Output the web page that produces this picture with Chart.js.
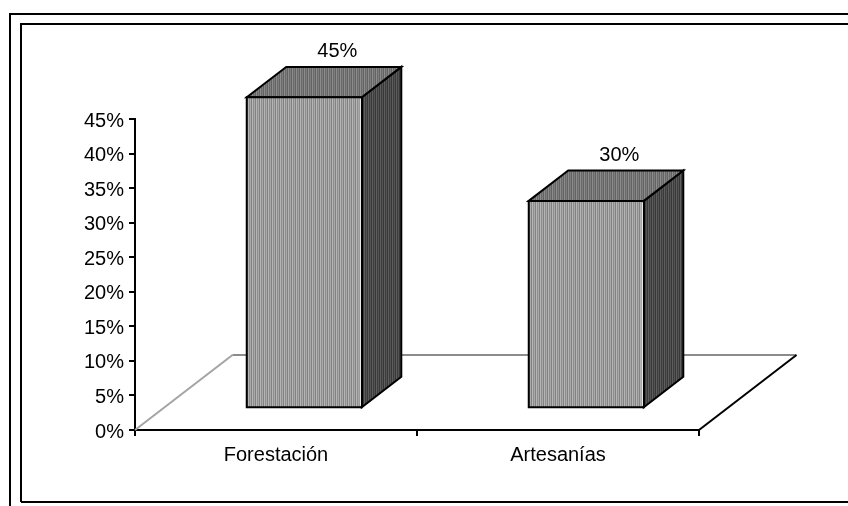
<!DOCTYPE html>
<html>
<head>
<meta charset="utf-8">
<script src="https://cdn.jsdelivr.net/npm/chart.js@4/dist/chart.umd.min.js"></script>
<style>
  html, body { margin: 0; padding: 0; background: #fff; }
  canvas { display: block; }
</style>
</head>
<body>
<canvas id="chart" width="848" height="506"></canvas>
<script>
// Categories and their shares (percent)
const categories = ['Forestación', 'Artesanías'];
const shares = [45, 30];
// Value axis: 0% .. 45% in 5% steps
const axisMin = 0;
const axisMax = 45;
const axisStep = 5;

const FONT = '"Liberation Sans", Arial, sans-serif';

// 3-D look: floor depth vector, bar front offset and bar depth as fractions of it
const FLOOR = { dx: 97.5, dy: 75 };
const BAR_FRONT = 0.29;
const BAR_DEPTH = 0.405;

// Striped fills for the faces of the boxes
function stripePattern(cols) {
  const c = document.createElement('canvas');
  c.width = cols.length; c.height = 1;
  const g = c.getContext('2d');
  cols.forEach((col, i) => { g.fillStyle = col; g.fillRect(i, 0, 1, 1); });
  return g.createPattern(c, 'repeat');
}
const ctxMain = document.getElementById('chart').getContext('2d');
const fills = {
  front: stripePattern(['#b6b6b6', '#8e8e8e', '#a9a9a9', '#828282']),
  top:   stripePattern(['#8c8c8c', '#6a6a6a', '#7e7e7e', '#626262']),
  side:  stripePattern(['#5e5e5e', '#3e3e3e', '#535353', '#383838'])
};

function poly(ctx, pts) {
  ctx.beginPath();
  ctx.moveTo(pts[0][0], pts[0][1]);
  for (let i = 1; i < pts.length; i++) ctx.lineTo(pts[i][0], pts[i][1]);
  ctx.closePath();
}

// Page frame: double rule at top and left, single rule at bottom
const frame = {
  id: 'frame',
  beforeDraw(chart) {
    const ctx = chart.ctx;
    const W = chart.width, H = chart.height;
    ctx.save();
    ctx.fillStyle = '#fff';
    ctx.fillRect(0, 0, W, H);
    ctx.strokeStyle = '#000';
    ctx.lineWidth = 2;
    ctx.beginPath();
    ctx.moveTo(10, H); ctx.lineTo(10, 14); ctx.lineTo(W, 14);
    ctx.moveTo(21, 502); ctx.lineTo(21, 24); ctx.lineTo(W, 24);
    ctx.moveTo(21, 502); ctx.lineTo(W, 502);
    ctx.stroke();
    ctx.restore();
  }
};

// Floor of the 3-D plot
const floor = {
  id: 'floor',
  beforeDatasetsDraw(chart) {
    const ctx = chart.ctx;
    const a = chart.chartArea;
    const y0 = chart.scales.y.getPixelForValue(axisMin);
    ctx.save();
    ctx.lineWidth = 2;
    ctx.strokeStyle = '#a4a4a4';
    ctx.beginPath();
    ctx.moveTo(a.left, y0);
    ctx.lineTo(a.left + FLOOR.dx, y0 - FLOOR.dy);
    ctx.stroke();
    ctx.strokeStyle = '#8c8c8c';
    ctx.beginPath();
    ctx.moveTo(a.left + FLOOR.dx, y0 - FLOOR.dy);
    ctx.lineTo(a.right + FLOOR.dx, y0 - FLOOR.dy);
    ctx.stroke();
    ctx.strokeStyle = '#000';
    ctx.beginPath();
    ctx.moveTo(a.right, y0);
    ctx.lineTo(a.right + FLOOR.dx, y0 - FLOOR.dy);
    ctx.stroke();
    ctx.restore();
  }
};

// Draws each bar as a box with front, top and side faces, plus its value label
const boxes = {
  id: 'boxes',
  afterDatasetsDraw(chart) {
    const ctx = chart.ctx;
    const meta = chart.getDatasetMeta(0);
    const fx = FLOOR.dx * BAR_FRONT, fy = FLOOR.dy * BAR_FRONT;
    const dx = FLOOR.dx * BAR_DEPTH, dy = FLOOR.dy * BAR_DEPTH;
    ctx.save();
    meta.data.forEach((bar, i) => {
      const p = bar.getProps(['x', 'y', 'base', 'width'], true);
      const l = p.x - p.width / 2 + fx;
      const r = p.x + p.width / 2 + fx;
      const t = p.y - fy;
      const b = p.base - fy;

      const front = [[l, t], [r, t], [r, b], [l, b]];
      const side = [[r, t], [r + dx, t - dy], [r + dx, b - dy], [r, b]];
      const top = [[l, t], [l + dx, t - dy], [r + dx, t - dy], [r, t]];

      ctx.lineWidth = 2;
      ctx.lineJoin = 'miter';
      ctx.strokeStyle = '#000';
      [[side, fills.side], [top, fills.top], [front, fills.front]].forEach(([pts, fill]) => {
        poly(ctx, pts);
        ctx.fillStyle = fill;
        ctx.fill();
        ctx.stroke();
      });
      // light edge between front and side faces
      ctx.strokeStyle = '#ffffff';
      ctx.lineWidth = 1;
      ctx.beginPath();
      ctx.moveTo(r - 1.5, t + 1.5);
      ctx.lineTo(r - 1.5, b - 1.5);
      ctx.stroke();

      // value label above the box
      ctx.fillStyle = '#000';
      ctx.font = '20px ' + FONT;
      ctx.textAlign = 'center';
      ctx.textBaseline = 'middle';
      ctx.fillText(shares[i] + '%', (l + r) / 2 + 33, t - dy - 15);
    });
    ctx.restore();
  }
};

new Chart(ctxMain, {
  type: 'bar',
  data: {
    labels: categories,
    datasets: [{
      data: shares,
      backgroundColor: 'rgba(0,0,0,0)',
      borderWidth: 0,
      categoryPercentage: 1,
      barPercentage: 0.408
    }]
  },
  options: {
    responsive: false,
    animation: false,
    events: [],
    layout: { padding: { top: 119, right: 149, left: 0, bottom: 0 } },
    plugins: {
      legend: { display: false },
      tooltip: { enabled: false }
    },
    scales: {
      x: {
        offset: true,
        grid: {
          display: true, drawOnChartArea: false, drawTicks: true,
          tickLength: 6, color: '#000', lineWidth: 2, offset: true
        },
        border: { display: true, color: '#000', width: 2 },
        ticks: { color: '#000', font: { family: FONT, size: 20 }, padding: 7, maxRotation: 0 },
        afterFit: s => { s.height = 76; }
      },
      y: {
        min: axisMin,
        max: axisMax,
        grid: {
          display: true, drawOnChartArea: false, drawTicks: true,
          tickLength: 6, color: '#000', lineWidth: 2
        },
        border: { display: true, color: '#000', width: 2 },
        ticks: {
          stepSize: axisStep,
          color: '#000',
          font: { family: FONT, size: 20 },
          padding: 5,
          labelOffset: 2,
          callback: v => v + '%'
        },
        afterFit: s => { s.width = 135; }
      }
    }
  },
  plugins: [frame, floor, boxes]
});
</script>
</body>
</html>
